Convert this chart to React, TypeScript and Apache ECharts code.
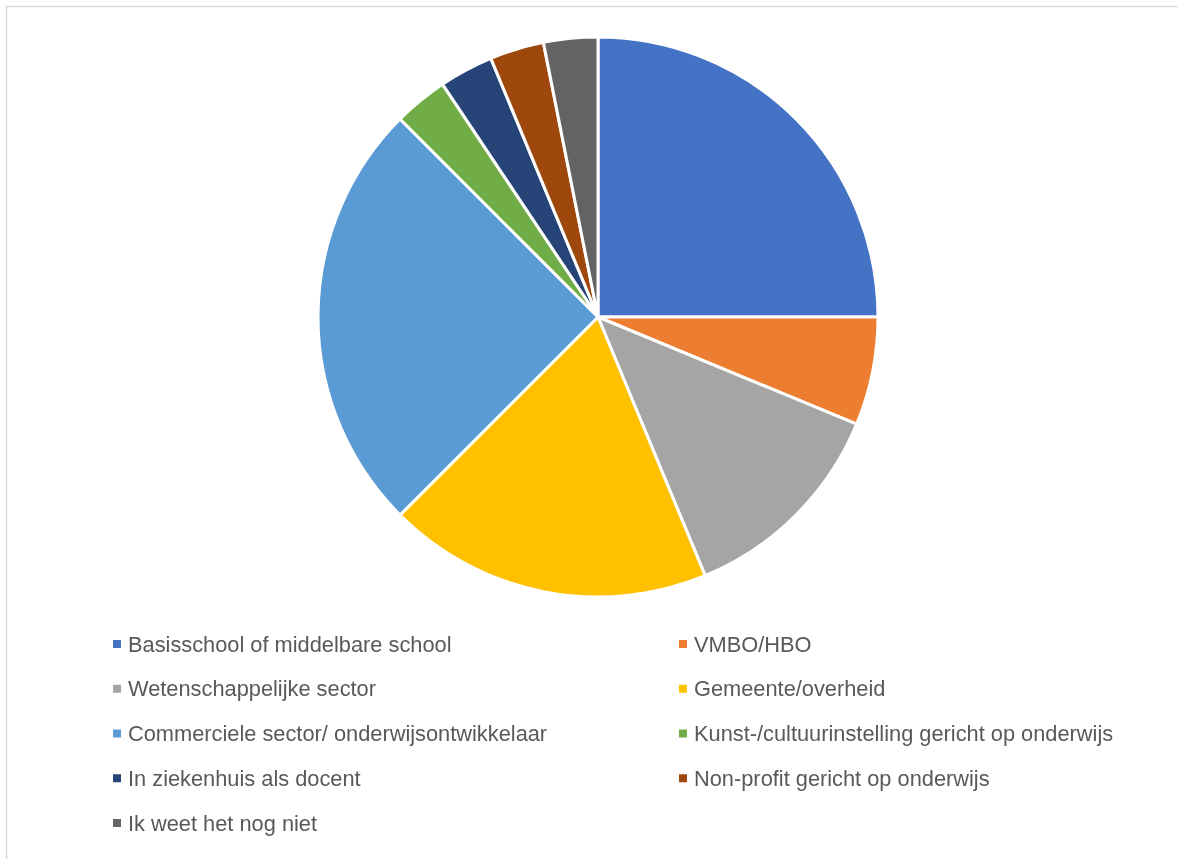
import React, { useEffect, useRef } from "react";
import * as echarts from "echarts";

const categories = [
  "Basisschool of middelbare school",
  "VMBO/HBO",
  "Wetenschappelijke sector",
  "Gemeente/overheid",
  "Commerciele sector/ onderwijsontwikkelaar",
  "Kunst-/cultuurinstelling gericht op onderwijs",
  "In ziekenhuis als docent",
  "Non-profit gericht op onderwijs",
  "Ik weet het nog niet",
];
const values = [8, 2, 4, 6, 8, 1, 1, 1, 1];
const colors = [
  "#4472C4",
  "#ED7D31",
  "#A5A5A5",
  "#FFC000",
  "#5B9BD5",
  "#70AD47",
  "#264478",
  "#9E480E",
  "#636363",
];

const leftLegend = categories.filter((_, i) => i % 2 === 0);
const rightLegend = categories.filter((_, i) => i % 2 === 1);

export default function App() {
  const ref = useRef<HTMLDivElement>(null);
  useEffect(() => {
    if (!ref.current) return;
    const chart = echarts.init(ref.current, undefined, { renderer: "svg" });
    const legendCommon = {
      orient: "vertical" as const,
      top: 633,
      padding: 0,
      icon: "rect",
      itemWidth: 10,
      itemHeight: 10,
      itemGap: 22.75,
      selectedMode: false,
      textStyle: {
        color: "#595959",
        fontSize: 21.8,
        lineHeight: 22,
        fontFamily: "Liberation Sans",
        padding: [0, 0, 0, 1],
      },
    };
    chart.setOption({
      animation: false,
      color: colors,
      graphic: [
        {
          type: "rect",
          shape: { x: 6.5, y: 6.5, width: 1300, height: 1000 },
          style: { fill: "none", stroke: "#d9d9d9", lineWidth: 1.5 },
          silent: true,
        },
      ],
      legend: [
        { ...legendCommon, left: 111, data: leftLegend },
        { ...legendCommon, left: 677, data: rightLegend },
      ],
      series: [
        {
          type: "pie",
          center: [598, 317],
          radius: 280,
          startAngle: 90,
          clockwise: true,
          label: { show: false },
          labelLine: { show: false },
          itemStyle: { borderColor: "#ffffff", borderWidth: 3 },
          emphasis: { disabled: true },
          data: categories.map((name, i) => ({ name, value: values[i] })),
        },
      ],
    });
    return () => chart.dispose();
  }, []);
  return (
    <div
      ref={ref}
      style={{ position: "fixed", left: 0, top: 0, width: 1178, height: 859 }}
    />
  );
}
